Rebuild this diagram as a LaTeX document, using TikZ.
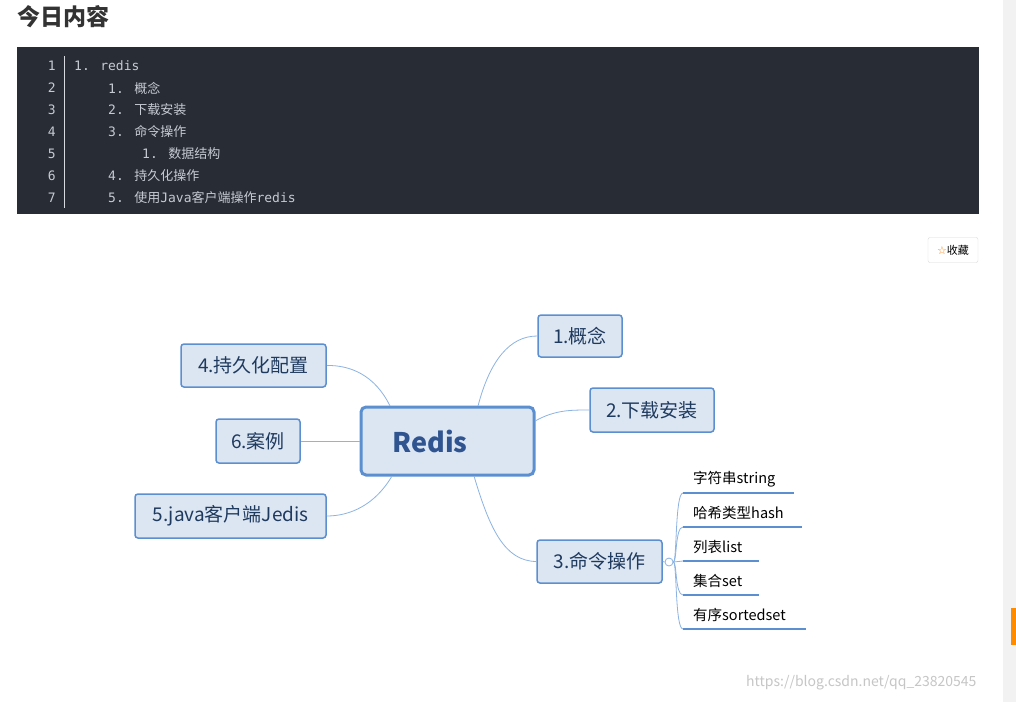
\documentclass[tikz,border=0pt]{standalone}
\usepackage{fontspec}
\setmainfont{Noto Sans CJK SC}
\newfontfamily\cjkm{Noto Sans CJK SC}
\newfontfamily\monof{DejaVu Sans Mono}
\newfontfamily\symf{DejaVu Sans}
\begin{document}
\begin{tikzpicture}[x=1pt,y=-1pt,
  mnode/.style={draw=bl,fill=nf,line width=1.5pt,rounded corners=3pt,inner sep=0pt,font=\fontsize{19}{21}\selectfont,text=tx},
  conn/.style={draw=lc,line width=0.8pt},
  sub/.style={anchor=west,font=\fontsize{14.5}{16}\selectfont,text=black,inner sep=0pt},
  uline/.style={draw=bl,line width=2pt},
  code/.style={anchor=west,inner sep=0pt,text=cd,font=\fontsize{13}{15}\selectfont}]
\definecolor{bl}{HTML}{5B8FD0}
\definecolor{nf}{HTML}{DCE6F2}
\definecolor{tx}{HTML}{1F3A5F}
\definecolor{rt}{HTML}{2F5490}
\definecolor{lc}{HTML}{8DB3E2}
\definecolor{cd}{HTML}{C5CAD3}
\definecolor{cbg}{HTML}{282C34}
\useasboundingbox (0,0) rectangle (1016,702);
\fill[white] (0,0) rectangle (1016,702);
% scrollbar
\fill[gray!10] (1003,0) rectangle (1016,702);
\fill[orange!90!yellow] (1011,608) rectangle (1016,645);
% title
\node[anchor=west,inner sep=0pt,font=\fontsize{23}{26}\selectfont\bfseries,text=black!80] (title) at (17,17) {今日内容};
% code block
\fill[cbg] (17,47) rectangle (979,214);
\draw[cd!70,line width=0.8pt] (64,56) -- (64,208);
\foreach \n/\yy in {1/66,2/88,3/110,4/132,5/154,6/176,7/198}
  \node[anchor=east,inner sep=0pt,text=cd,font=\fontsize{13}{15}\monof] (ln\n) at (56,\yy) {\n};
\node[code] (c1) at (74,66) {\monof 1. redis};
\node[code] (c2) at (108,88) {\monof 1. \cjkm 概念};
\node[code] (c3) at (108,110) {\monof 2. \cjkm 下载安装};
\node[code] (c4) at (108,132) {\monof 3. \cjkm 命令操作};
\node[code] (c5) at (142,154) {\monof 1. \cjkm 数据结构};
\node[code] (c6) at (108,176) {\monof 4. \cjkm 持久化操作};
\node[code] (c7) at (108,198) {\monof 5. \cjkm 使用\monof Java\cjkm 客户端操作\monof redis};
% collect button
\node[draw=gray!30,rounded corners=2pt,minimum width=50pt,minimum height=25pt,inner sep=0pt,font=\fontsize{11}{12}\selectfont] (fav) at (953,250) {{\symf\color{orange}\char"2606}收藏};
% mind map
\node[draw=bl,fill=nf,line width=3pt,rounded corners=5pt,minimum width=173pt,minimum height=68pt,inner sep=0pt] (redis) at (447.5,441) {};
\node[font=\fontsize{27}{30}\selectfont\bfseries,text=rt,inner sep=0pt] (rlabel) at (430,441) {Redis};
\node[mnode,minimum width=84pt,minimum height=42pt] (n1) at (580,336) {1.概念};
\node[mnode,minimum width=124pt,minimum height=44pt] (n2) at (652,410) {2.下载安装};
\node[mnode,minimum width=125pt,minimum height=43pt] (n3) at (599.5,561.5) {3.命令操作};
\node[mnode,minimum width=145pt,minimum height=43pt] (n4) at (253.5,365.5) {4.持久化配置};
\node[mnode,minimum width=84pt,minimum height=44pt] (n6) at (258,441) {6.案例};
\node[mnode,minimum width=191pt,minimum height=44pt] (n5) at (230.5,516) {5.java客户端Jedis};
\coordinate (r1) at (478,406);
\coordinate (r2) at (535,421);
\coordinate (r3) at (474,476);
\coordinate (r4) at (390,406);
\coordinate (r5) at (392,476);
\draw[conn] (r1) .. controls (490,360) and (510,336) .. (n1.west);
\draw[conn] (r2) .. controls (555,410) and (570,410) .. (n2.west);
\draw[conn] (r3) .. controls (490,530) and (505,561) .. (n3.west);
\draw[conn] (r4) .. controls (375,375) and (350,365) .. (n4.east);
\draw[conn] (redis.west) -- (n6.east);
\draw[conn] (r5) .. controls (375,505) and (350,516) .. (n5.east);
% sub items
\node[draw=lc,circle,minimum size=8pt,inner sep=0pt,line width=0.8pt,fill=white] (hub) at (669,562) {};
\draw[conn] (n3.east) -- (hub.west);
\foreach \i/\yy/\xe/\t in {a/493/794/字符串string,b/527/802/哈希类型hash,c/561/759/列表list,d/595/759/集合set,e/629/806/有序sortedset}{
  \coordinate (s\i) at (683,\yy);
  \coordinate (e\i) at (\xe,\yy);
  \draw[uline] (s\i) -- (e\i);
  \node[sub] (t\i) at (693,\yy-14) {\t};
}
\draw[conn] (hub.east) .. controls (677,562) and (675,493) .. (sa);
\draw[conn] (hub.east) .. controls (677,562) and (675,527) .. (sb);
\draw[conn] (hub.east) -- (sc);
\draw[conn] (hub.east) .. controls (677,562) and (675,595) .. (sd);
\draw[conn] (hub.east) .. controls (677,562) and (675,629) .. (se);
% watermark
\node[anchor=west,inner sep=0pt,text=gray!45,font=\fontsize{14}{16}\selectfont] (wm) at (746,683) {https://blog.csdn.net/qq\_23820545};
\end{tikzpicture}
\end{document}
